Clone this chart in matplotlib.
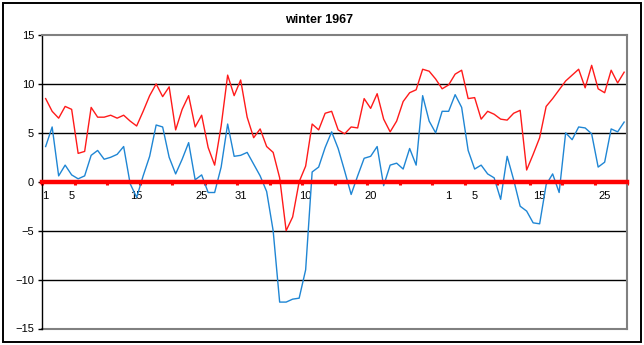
import matplotlib.pyplot as plt
from matplotlib.patches import Rectangle
import numpy as np

plt.rcParams['font.family'] = ['Liberation Sans', 'DejaVu Sans']

# daily values, 1 Dec 1966 .. 28 Feb 1967
red_series = [8.5, 7.2, 6.5, 7.7, 7.4, 2.9, 3.1, 7.6, 6.6, 6.6,
              6.8, 6.5, 6.8, 6.2, 5.7, 7.2, 8.8, 10.0, 8.7, 9.7,
              5.3, 7.4, 8.8, 5.6, 6.8, 3.5, 1.7, 5.7, 10.9, 8.8,
              10.4, 6.6, 4.5, 5.4, 3.6, 3.0, 0.4, -5.0, -3.6, 0.0,
              1.6, 5.9, 5.3, 7.0, 7.2, 5.3, 4.9, 5.6, 5.5, 8.5,
              7.5, 9.0, 6.4, 5.1, 6.2, 8.2, 9.1, 9.4, 11.5, 11.3,
              10.5, 9.5, 9.9, 11.0, 11.4, 8.5, 8.6, 6.4, 7.2, 6.9,
              6.4, 6.3, 7.0, 7.3, 1.2, 2.8, 4.5, 7.7, 8.5, 9.4,
              10.3, 10.9, 11.5, 9.6, 11.9, 9.5, 9.1, 11.4, 10.1, 11.2]

blue_series = [3.6, 5.6, 0.6, 1.7, 0.7, 0.3, 0.6, 2.7, 3.2, 2.3,
               2.5, 2.8, 3.6, -0.2, -1.6, 0.6, 2.6, 5.8, 5.6, 2.5,
               0.8, 2.3, 4.0, 0.2, 0.7, -1.1, -1.1, 1.5, 5.9, 2.6,
               2.7, 3.0, 1.8, 0.6, -1.0, -5.0, -12.3, -12.3, -12.0, -11.9,
               -9.0, 1.0, 1.5, 3.5, 5.1, 3.4, 1.1, -1.3, 0.6, 2.4,
               2.6, 3.6, -0.4, 1.7, 1.9, 1.3, 3.4, 1.7, 8.8, 6.2,
               5.0, 7.2, 7.2, 8.9, 7.6, 3.2, 1.3, 1.7, 0.8, 0.4,
               -1.8, 2.6, 0.2, -2.5, -3.0, -4.2, -4.3, -0.3, 0.8, -1.1,
               5.0, 4.3, 5.6, 5.5, 4.9, 1.5, 2.0, 5.4, 5.1, 6.1]

label_days = [0, 4, 14, 24, 30, 40, 50, 62, 66, 76, 86]
label_text = ['1', '5', '15', '25', '31', '10', '20', '1', '5', '15', '25']
y_ticks = [-15, -10, -5, 0, 5, 10, 15]

fig = plt.figure(figsize=(6.44, 3.45), dpi=100)
ax = fig.add_axes([42.4 / 644, 1 - 328.5 / 345, 585 / 644, 293.5 / 345])

x = np.arange(len(red_series))
ax.plot(x, red_series, color='#ff1a1a', lw=1.0, zorder=3)
ax.plot(x, blue_series, color='#1f86d4', lw=1.0, zorder=3)

ax.set_xlim(-0.5, len(red_series) - 0.5)
ax.set_ylim(-15, 15)

# horizontal grid
for v in [-10, -5, 5, 10]:
    ax.axhline(v, color='black', lw=1.0, zorder=1)
ax.axhline(-15, color='#808080', lw=1.5, zorder=1, clip_on=False)

# category axis crosses at zero
ax.spines['bottom'].set_position(('data', 0))
ax.spines['bottom'].set_color('#ff0000')
ax.spines['bottom'].set_linewidth(3.2)
ax.spines['bottom'].set_zorder(5)
for s in ['top', 'right']:
    ax.spines[s].set_color('#808080')
    ax.spines[s].set_linewidth(1.5)
ax.spines['left'].set_color('black')
ax.spines['left'].set_linewidth(1.0)

ax.set_xticks(np.arange(-0.5, len(red_series), 5))
ax.set_xticklabels([])
ax.tick_params(axis='x', which='major', direction='out', length=2.2,
               width=2.2, color='#ff0000')
ax.set_xticks(label_days, label_text, minor=True)
ax.tick_params(axis='x', which='minor', length=0, pad=6.5, labelsize=8)

ax.set_yticks(y_ticks)
ax.tick_params(axis='y', direction='out', length=3, width=1, pad=3,
               labelsize=8)

fig.text(319 / 644, 1 - 20 / 345, 'winter 1967', ha='center', va='center',
         fontsize=9, fontweight='bold')

# chart frame
fig.add_artist(Rectangle((2.5 / 644, 1 - 342 / 345), 638.5 / 644, 339.5 / 345,
                         transform=fig.transFigure, fill=False,
                         edgecolor='black', lw=1.4))

fig.savefig('out.png', dpi=100)
